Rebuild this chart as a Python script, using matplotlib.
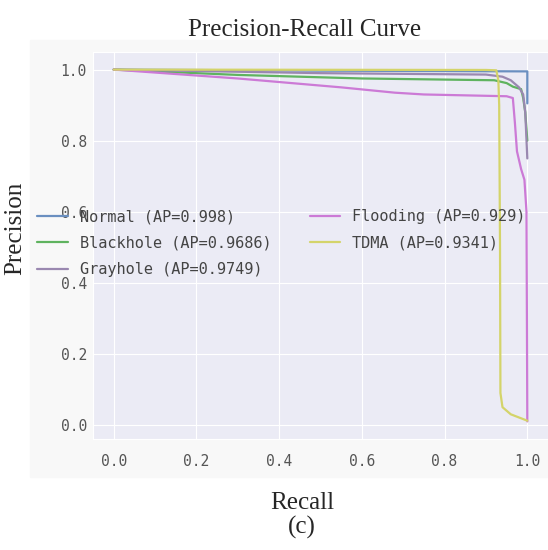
import matplotlib
matplotlib.use("Agg")
import matplotlib.pyplot as plt
import seaborn as sns
from matplotlib.patches import Rectangle

# precision-recall points
normal_recall = [0.0, 0.5, 0.99, 1.0, 1.0]
normal_prec = [1.0, 0.997, 0.995, 0.995, 0.905]

black_recall = [0.0, 0.3, 0.6, 0.92, 0.95, 0.965, 0.985, 0.99, 0.995, 1.0]
black_prec = [1.0, 0.985, 0.975, 0.97, 0.962, 0.952, 0.945, 0.92, 0.88, 0.80]

gray_recall = [0.0, 0.5, 0.9, 0.94, 0.96, 0.98, 0.99, 0.995, 1.0]
gray_prec = [1.0, 0.99, 0.986, 0.98, 0.97, 0.95, 0.93, 0.88, 0.75]

flood_recall = [0.0, 0.3, 0.55, 0.68, 0.75, 0.95, 0.965, 0.97, 0.975, 0.985, 0.993, 0.998, 1.0]
flood_prec = [1.0, 0.975, 0.95, 0.935, 0.93, 0.925, 0.92, 0.85, 0.77, 0.72, 0.69, 0.6, 0.01]

tdma_recall = [0.0, 0.9, 0.925, 0.93, 0.932, 0.934, 0.935, 0.94, 0.96, 1.0]
tdma_prec = [1.0, 0.999, 0.998, 0.97, 0.9, 0.5, 0.09, 0.05, 0.03, 0.012]

labels = ["Normal (AP=0.998)", "Blackhole (AP=0.9686)", "Grayhole (AP=0.9749)",
          "Flooding (AP=0.929)", "TDMA (AP=0.9341)"]
colors = ["#6a8fc0", "#5fb35f", "#9a88b0", "#cc7ad6", "#d4d46a"]

sns.set_style("darkgrid", {"axes.facecolor": "#ebebf5"})
plt.rcParams["font.family"] = ["DejaVu Sans Mono"]

fig = plt.figure(figsize=(5.48, 5.5), dpi=100)
# light grey backdrop of the original screenshot
fig.patches.append(Rectangle((30 / 548, 1 - 477 / 550), 518 / 548, 437 / 550,
                             transform=fig.transFigure, color="#f8f8f8", zorder=-5))
ax = fig.add_axes([93 / 548, 1 - 439 / 550, 455 / 548, (439 - 52) / 550])
ax.set_zorder(1)

series = [(normal_recall, normal_prec), (black_recall, black_prec),
          (gray_recall, gray_prec), (flood_recall, flood_prec),
          (tdma_recall, tdma_prec)]
for (r, p), lab, c in zip(series, labels, colors):
    ax.plot(r, p, color=c, lw=1.6, label=lab)

ax.set_xticks([0.0, 0.2, 0.4, 0.6, 0.8, 1.0])
ax.set_yticks([0.0, 0.2, 0.4, 0.6, 0.8, 1.0])
ax.tick_params(labelsize=10.5, labelcolor="#555555")
ax.tick_params(axis="x", pad=7)
ax.tick_params(axis="y", pad=1)

handles, labs = ax.get_legend_handles_labels()
leg = fig.legend(handles, labs, loc="upper left", bbox_to_anchor=(37 / 548, 1 - 209 / 550),
                 ncol=2, frameon=False, fontsize=11, handlelength=2.0, handletextpad=0.8,
                 columnspacing=2.5, labelspacing=0.75, borderpad=0, borderaxespad=0,
                 labelcolor="#444444")
leg.set_zorder(5)

serif = ["Liberation Serif", "DejaVu Serif"]
fig.text(305 / 548, 1 - 30 / 550, "Precision-Recall Curve", family=serif,
         fontsize=18, ha="center", va="center")
fig.text(15 / 548, 1 - 228 / 550, "Precision", family=serif, fontsize=18,
         rotation=90, ha="center", va="center")
fig.text(302 / 548, 1 - 503 / 550, "Recall", family=serif, fontsize=18,
         ha="center", va="center")
fig.text(302 / 548, 1 - 527 / 550, "(c)", family=serif, fontsize=18,
         ha="center", va="center")

fig.savefig("out.png", dpi=100, facecolor="white")
